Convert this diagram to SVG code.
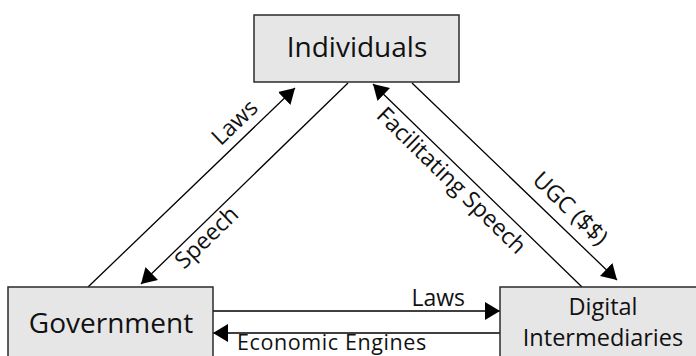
<svg xmlns="http://www.w3.org/2000/svg" width="696" height="356" viewBox="0 0 696 356">
<style>
.box{fill:#e6e6e7;stroke:#2b2b2b;stroke-width:1.5}
.t{font-family:"Open Sans","Noto Sans",sans-serif;fill:#111}
.n{font-size:28px;text-anchor:middle}
.d{font-size:23.5px;text-anchor:middle}
.l{font-size:23px}
.c{fill:none;stroke:#000;stroke-width:1.3}
</style>
<defs>
<marker id="ah" markerUnits="userSpaceOnUse" markerWidth="16" markerHeight="18" refX="15" refY="9" orient="auto">
<path d="M0,0 L15,9 L0,18 z" fill="#000"/>
</marker>
</defs>
<rect width="696" height="356" fill="#fff"/>
<g id="connectors">
<line class="c" x1="88" y1="287" x2="295" y2="88" marker-end="url(#ah)"/>
<line class="c" x1="348" y1="83" x2="141" y2="284" marker-end="url(#ah)"/>
<line class="c" x1="582" y1="287" x2="373" y2="84" marker-end="url(#ah)"/>
<line class="c" x1="412" y1="83" x2="617" y2="280" marker-end="url(#ah)"/>
<line class="c" x1="213" y1="311" x2="500" y2="311" marker-end="url(#ah)"/>
<line class="c" x1="500" y1="333" x2="213" y2="333" marker-end="url(#ah)"/>
<text class="t l" text-anchor="middle" transform="translate(240,128) rotate(-44)">Laws</text>
<text class="t l" text-anchor="middle" transform="translate(212,243) rotate(-44)">Speech</text>
<text class="t l" text-anchor="middle" transform="translate(446,186) rotate(44.4)">Facilitating Speech</text>
<text class="t l" text-anchor="middle" transform="translate(565,214) rotate(44)">UGC ($$)</text>
<text class="t l" text-anchor="end" x="465" y="306">Laws</text>
<text class="t" x="237" y="350" font-size="21.5" letter-spacing="0.6">Economic Engines</text>
</g>
<g id="individuals">
<rect class="box" x="254" y="15" width="205" height="67"/>
<text class="t n" x="357" y="57">Individuals</text>
</g>
<g id="government">
<rect class="box" x="8" y="287" width="205" height="75"/>
<text class="t n" x="111" y="333">Government</text>
</g>
<g id="digital">
<rect class="box" x="500" y="287" width="205" height="75"/>
<text class="t d" x="603" y="315">Digital</text>
<text class="t d" x="603" y="346">Intermediaries</text>
</g>
</svg>
